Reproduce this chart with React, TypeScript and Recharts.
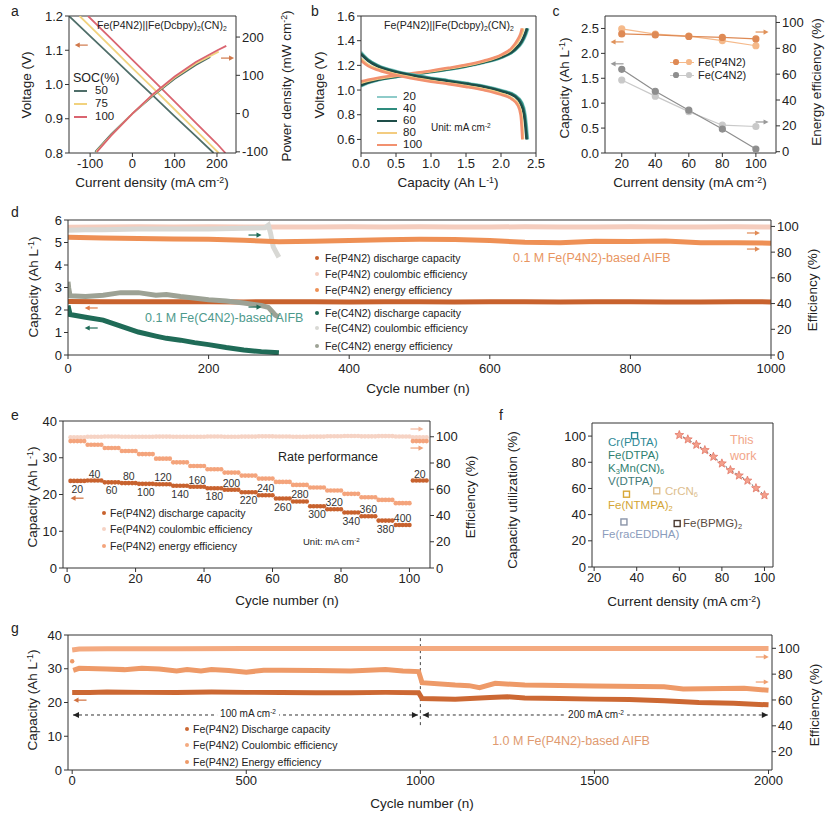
import React from "react";
import { ComposedChart, Line, XAxis, YAxis, ReferenceLine, ReferenceDot } from "recharts";

const FONT = "Arial, 'Liberation Sans', Helvetica, sans-serif";
const AX = "#333";
const tick = { fontSize: 13, fill: "#222", fontFamily: FONT };
const fmt1 = (v: number) => v.toFixed(1);

// ---------- a: polarization / power ----------
const socNames = ["50", "75", "100"];
const socColors = ["#4F6E69", "#F1D27E", "#DA6470"];
const voltSoc = [
  [[-150, 1.2], [-100, 1.141], [-50, 1.083], [0, 1.024], [50, 0.966], [100, 0.907], [150, 0.849], [192, 0.8]],
  [[-125, 1.2], [-100, 1.17], [-50, 1.109], [0, 1.048], [50, 0.988], [100, 0.927], [150, 0.866], [204, 0.8]],
  [[-105, 1.2], [-50, 1.133], [0, 1.072], [50, 1.011], [100, 0.95], [150, 0.888], [200, 0.827], [220, 0.8]],
];
const powerSoc = [
  [[-88, -100], [-50, -54], [0, 0], [50, 48], [100, 91], [150, 127], [184, 148]],
  [[-86, -100], [-50, -56], [0, 0], [50, 50], [100, 94], [150, 131], [204, 162]],
  [[-84, -100], [-50, -57], [0, 0], [50, 52], [100, 97], [150, 135], [200, 165], [222, 177]],
];

// ---------- b: charge / discharge curves ----------
const bCurrents = ["20", "40", "60", "80", "100"];
const bColors = ["#8ECBC9", "#2E8C7E", "#1E4D49", "#F3CC80", "#F2916F"];
const bCharge = [
  [[0, 1.03], [0.1, 1.055], [0.25, 1.08], [0.5, 1.105], [0.75, 1.125], [1, 1.145], [1.25, 1.165], [1.5, 1.19], [1.75, 1.22], [2, 1.26], [2.2, 1.32], [2.3, 1.38], [2.36, 1.45], [2.39, 1.5]],
  [[0, 1.035], [0.1, 1.06], [0.25, 1.083], [0.5, 1.107], [0.75, 1.127], [1, 1.147], [1.25, 1.167], [1.5, 1.192], [1.75, 1.223], [2, 1.263], [2.2, 1.325], [2.3, 1.39], [2.35, 1.45], [2.38, 1.5]],
  [[0, 1.04], [0.1, 1.062], [0.25, 1.086], [0.5, 1.11], [0.75, 1.13], [1, 1.15], [1.25, 1.17], [1.5, 1.195], [1.75, 1.226], [2, 1.268], [2.2, 1.33], [2.29, 1.39], [2.34, 1.45], [2.37, 1.5]],
  [[0, 1.06], [0.1, 1.075], [0.25, 1.093], [0.5, 1.115], [0.75, 1.133], [1, 1.153], [1.25, 1.175], [1.5, 1.2], [1.75, 1.232], [2, 1.28], [2.15, 1.33], [2.25, 1.4], [2.3, 1.46], [2.32, 1.5]],
  [[0, 1.07], [0.1, 1.083], [0.25, 1.1], [0.5, 1.12], [0.75, 1.137], [1, 1.157], [1.25, 1.18], [1.5, 1.205], [1.75, 1.238], [2, 1.285], [2.15, 1.34], [2.24, 1.41], [2.28, 1.46], [2.3, 1.5]],
];
const bDischarge = [
  [[0, 1.31], [0.1, 1.25], [0.25, 1.2], [0.5, 1.155], [0.75, 1.125], [1, 1.1], [1.25, 1.08], [1.5, 1.058], [1.75, 1.035], [2, 1.0], [2.2, 0.96], [2.3, 0.9], [2.35, 0.8], [2.37, 0.7], [2.385, 0.6]],
  [[0, 1.3], [0.1, 1.245], [0.25, 1.196], [0.5, 1.151], [0.75, 1.121], [1, 1.096], [1.25, 1.076], [1.5, 1.054], [1.75, 1.031], [2, 0.996], [2.2, 0.955], [2.3, 0.89], [2.34, 0.8], [2.36, 0.7], [2.375, 0.6]],
  [[0, 1.29], [0.1, 1.238], [0.25, 1.19], [0.5, 1.146], [0.75, 1.116], [1, 1.092], [1.25, 1.072], [1.5, 1.05], [1.75, 1.027], [2, 0.991], [2.2, 0.948], [2.28, 0.89], [2.33, 0.8], [2.35, 0.7], [2.365, 0.6]],
  [[0, 1.255], [0.1, 1.205], [0.25, 1.168], [0.5, 1.127], [0.75, 1.098], [1, 1.074], [1.25, 1.053], [1.5, 1.032], [1.75, 1.006], [2, 0.97], [2.15, 0.935], [2.25, 0.88], [2.29, 0.8], [2.305, 0.7], [2.315, 0.6]],
  [[0, 1.24], [0.1, 1.195], [0.25, 1.16], [0.5, 1.12], [0.75, 1.092], [1, 1.068], [1.25, 1.048], [1.5, 1.026], [1.75, 1.0], [2, 0.963], [2.15, 0.928], [2.24, 0.875], [2.28, 0.8], [2.295, 0.7], [2.305, 0.6]],
];

// ---------- c: rate comparison ----------
const cDensity = [20, 40, 60, 80, 100];
const cP4n2Cap = [2.39, 2.37, 2.34, 2.32, 2.29];
const cP4n2EE = [95, 91, 89.5, 86, 82];
const cC4n2Cap = [1.68, 1.24, 0.86, 0.48, 0.08];
const cC4n2EE = [55.5, 43, 31, 20.5, 19.5];

// ---------- d: 0.1 M cycling ----------
const dCycles = [0, 50, 100, 150, 200, 250, 300, 350, 400, 450, 500, 550, 600, 650, 700, 750, 800, 850, 900, 950, 1000];
const dP4n2Cap = [2.38, 2.37, 2.37, 2.37, 2.37, 2.36, 2.37, 2.37, 2.36, 2.37, 2.37, 2.36, 2.37, 2.37, 2.36, 2.37, 2.37, 2.36, 2.36, 2.37, 2.36];
const dP4n2CE = [99.4, 99.6, 99.7, 99.6, 99.7, 99.6, 99.5, 99.6, 99.7, 99.6, 99.7, 99.6, 99.6, 99.7, 99.6, 99.6, 99.7, 99.6, 99.6, 99.7, 99.6];
const dP4n2EE = [91.5, 91, 90.6, 90.3, 90, 89.2, 88, 88.4, 89, 89.6, 90, 89.8, 89, 87.6, 87.4, 88.5, 88.3, 88.6, 87.3, 87.4, 87];
const dC4n2CapX = [0, 3, 25, 50, 75, 100, 125, 140, 160, 180, 200, 225, 250, 275, 300];
const dC4n2Cap = [2.2, 1.8, 1.68, 1.55, 1.28, 1.02, 0.84, 0.74, 0.66, 0.55, 0.46, 0.33, 0.22, 0.15, 0.1];
const dC4n2CEX = [0, 25, 50, 100, 150, 200, 250, 280, 285, 288, 292, 296, 300];
const dC4n2CE = [97, 97.5, 97.5, 98, 98, 98, 98.5, 99, 101, 95, 84, 80, 76];
const dC4n2EEX = [0, 1, 3, 25, 50, 75, 100, 125, 140, 160, 200, 225, 250, 275, 285, 290, 295, 300];
const dC4n2EE = [57, 52, 46, 45.5, 46.5, 48.5, 48.5, 46.5, 47, 45.5, 43, 42, 40.5, 38.5, 37, 34, 31, 29.5];

// ---------- e: rate performance ----------
const eCurrents = [20, 40, 60, 80, 100, 120, 140, 160, 180, 200, 220, 240, 260, 280, 300, 320, 340, 360, 380, 400, 20];
const eCapacity = [23.7, 23.8, 23.3, 23.1, 22.9, 22.8, 22.4, 22.1, 21.7, 21.3, 20.6, 19.8, 18.9, 18.1, 16.8, 16.0, 15.1, 14.1, 12.9, 11.7, 23.8];
const eEnergyEff = [96.7, 93.9, 91.4, 89.1, 86.8, 83.3, 80.5, 77.7, 75.2, 72.7, 70.4, 68.1, 65.6, 63.3, 61.3, 59.0, 56.5, 53.9, 51.9, 49.4, 96.7];
const eCoulombEff = [99.6, 100, 100.2, 100, 100, 100.1, 100, 100, 100.2, 100, 100.1, 100.3, 100.2, 100, 100.1, 100.4, 100.6, 100.3, 100.5, 100.2, 99.5];
const eStepLen = 5;

// ---------- f: capacity utilization comparison ----------
const fStarX = [60, 64, 68, 72, 76, 80, 84, 88, 92, 96, 100];
const fStarY = [100.8, 97.5, 93.4, 89.3, 84.2, 79.1, 74, 69.9, 66, 60.2, 54.8];
const fOtherX = [39, 35.2, 49.4, 34, 59];
const fOtherY = [100.3, 55.6, 58.2, 34.4, 33.2];
const fOtherColors = ["#2A8A9A", "#D8A838", "#E0C090", "#8A94A8", "#4A3A30"];

// ---------- g: 1.0 M long cycling ----------
const gCapX = [0, 50, 100, 200, 300, 400, 500, 600, 700, 800, 900, 995, 1005, 1100, 1200, 1250, 1300, 1400, 1500, 1600, 1700, 1800, 1900, 2000];
const gCap = [23, 23, 23.1, 23, 23, 23.1, 23, 23, 22.9, 22.9, 23, 22.9, 21.2, 21.0, 21.5, 21.7, 21.3, 21.2, 21.0, 20.9, 20.5, 20.0, 19.8, 19.3];
const gCEX = [0, 20, 100, 300, 500, 700, 900, 1000, 1100, 1300, 1500, 1700, 1900, 2000];
const gCE = [98.7, 99.4, 99.6, 99.7, 99.8, 99.8, 99.8, 99.8, 99.9, 99.9, 99.9, 99.9, 99.9, 99.8];
const gEEX = [3, 20, 100, 150, 200, 250, 300, 330, 370, 400, 450, 500, 550, 600, 700, 800, 900, 950, 995, 1005, 1100, 1140, 1170, 1215, 1300, 1500, 1700, 1755, 1930, 2000];
const gEE = [83, 84.5, 84, 83.5, 84.5, 84, 82.5, 83.5, 82.5, 83.5, 82.8, 81.5, 83, 83, 82.8, 82.5, 83.5, 82.5, 82, 73.4, 71.6, 71.1, 69.5, 72.9, 71.6, 70.8, 70.3, 68.5, 69, 67.5];
const gEEFirst = { x: 0, y: 90 };

const pairs = (p: number[][]) => p.map(([x, y]) => ({ x, y }));
const zip = (xs: number[], ys: number[]) => xs.map((x, i) => ({ x, y: ys[i] }));
const eCycles = eCurrents.flatMap((_, s) => Array.from({ length: eStepLen }, (_, k) => s * eStepLen + k + 1));
const eSeries = (vals: number[]) => eCycles.map((c) => ({ x: c, y: vals[Math.floor((c - 1) / eStepLen)] }));
const eLabels = eCurrents.map((cur, s) => ({ x: s * eStepLen + 3, y: eCapacity[s], cur, up: s % 2 === 1 || s === eCurrents.length - 1 }));

// ---------- small helpers ----------
const Sup = ({ c }: { c: string }) => <span style={{ fontSize: "0.65em", position: "relative", top: "-0.5em" }}>{c}</span>;
const Sub = ({ c }: { c: string }) => <span style={{ fontSize: "0.65em", position: "relative", top: "0.3em" }}>{c}</span>;

function Txt({ x, y, size = 13.5, color = "#222", rotate = 0, anchor = "middle", bg, children }: any) {
  const tx = anchor === "middle" ? "-50%" : anchor === "end" ? "-100%" : "0";
  return (
    <div
      style={{
        position: "absolute", left: x, top: y, transform: `translate(${tx},-50%) rotate(${rotate}deg)`,
        fontSize: size, color, whiteSpace: "nowrap", lineHeight: 1, fontFamily: FONT, background: bg, padding: bg ? "0 3px" : 0,
      }}
    >
      {children}
    </div>
  );
}

const Dot = ({ x, y, color, r = 2.3 }: any) => (
  <div style={{ position: "absolute", left: x - r, top: y - r, width: 2 * r, height: 2 * r, borderRadius: r, background: color }} />
);

const arrow = (dir: number, color: string, len = 13) => (p: any) => {
  const { cx, cy } = p;
  const tip = cx + (dir * len) / 2;
  const tail = cx - (dir * len) / 2;
  return (
    <g>
      <line x1={tail} y1={cy} x2={tip - dir * 4} y2={cy} stroke={color} strokeWidth={1.2} />
      <path d={`M${tip},${cy}L${tip - dir * 5},${cy - 2.6}L${tip - dir * 5},${cy + 2.6}Z`} fill={color} />
    </g>
  );
};
const headShape = (dir: number) => (p: any) => (
  <path d={`M${p.cx},${p.cy}L${p.cx - dir * 6},${p.cy - 3}L${p.cx - dir * 6},${p.cy + 3}Z`} fill="#222" />
);

const circleDot = (color: string, r = 2.3) => (p: any) => <circle key={`c${p.index}`} cx={p.cx} cy={p.cy} r={r} fill={color} />;
const squareDot = (color: string) => (p: any) => (
  <rect key={`s${p.index}`} x={p.cx - 3} y={p.cy - 3} width={6} height={6} fill="none" stroke={color} strokeWidth={1.4} />
);
const starDot = (p: any) => {
  const pts: string[] = [];
  for (let k = 0; k < 10; k++) {
    const r = k % 2 === 0 ? 4.6 : 2.0;
    const a = -Math.PI / 2 + (k * Math.PI) / 5;
    pts.push(`${p.cx + r * Math.cos(a)},${p.cy + r * Math.sin(a)}`);
  }
  return <polygon key={`st${p.index}`} points={pts.join(" ")} fill="#F4A08C" stroke="#E0705E" strokeWidth={0.7} />;
};
const stepLabel = (p: any) => (
  <text key={`l${p.index}`} x={p.cx} y={p.cy + (p.payload.up ? -7 : 8)} textAnchor="middle" dominantBaseline="central" fontSize={10.5} fill="#333" fontFamily={FONT}>
    {p.payload.cur}
  </text>
);

const xAx = (domain: number[], ticks: number[], height: number, fmt?: (v: number) => string, margin = 2) => (
  <XAxis type="number" dataKey="x" domain={domain} ticks={ticks} allowDataOverflow interval={0} height={height}
    tick={tick} tickSize={4} tickMargin={margin} stroke={AX} tickFormatter={fmt} />
);
const yAx = (id: string, domain: number[], ticks: number[], width: number, right = false, fmt?: (v: number) => string) => (
  <YAxis yAxisId={id} orientation={right ? "right" : "left"} type="number" domain={domain} ticks={ticks} allowDataOverflow interval={0}
    width={width} tick={tick} tickSize={4} stroke={AX} tickFormatter={fmt} />
);
const line = (id: string, data: any[], color: string, width = 2, extra: any = {}) => (
  <Line yAxisId={id} data={data} dataKey="y" stroke={color} strokeWidth={width} dot={false} activeDot={false} isAnimationActive={false} {...extra} />
);

const Box = ({ left, top, children }: any) => <div style={{ position: "absolute", left, top }}>{children}</div>;

const P4_CAP = "#C8622E";
const P4_CE = "#F5CDBE";
const P4_EE = "#EE9055";
const C4_CAP = "#1F6B57";
const C4_CE = "#D8D8D4";
const C4_EE = "#9DA295";
const socY = [91, 104, 117];

export default function App() {
  return (
    <div style={{ position: "absolute", left: 0, top: 0, width: 830, height: 813, background: "#fff", overflow: "hidden", fontFamily: FONT }}>
      {/* ---------- a ---------- */}
      <Box left={0} top={0}>
        <ComposedChart width={300} height={200} margin={{ top: 16, right: 0, bottom: 0, left: 0 }}>
          {xAx([-150, 245], [-100, 0, 100, 200], 47)}
          {yAx("l", [0.8, 1.2], [0.8, 0.9, 1.0, 1.1, 1.2], 69, false, fmt1)}
          {yAx("r", [-103, 255], [-100, 0, 100, 200], 64, true)}
          <ReferenceLine yAxisId="l" y={1.2} stroke={AX} />
          {voltSoc.map((v, i) => <React.Fragment key={`v${i}`}>{line("l", pairs(v), socColors[i], 1.8)}</React.Fragment>)}
          {powerSoc.map((v, i) => <React.Fragment key={`p${i}`}>{line("r", pairs(v), socColors[i], 1.8)}</React.Fragment>)}
          <ReferenceDot yAxisId="l" x={-121} y={1.115} r={0} shape={arrow(-1, "#D0784A")} />
          <ReferenceDot yAxisId="r" x={225} y={145} r={0} shape={arrow(1, "#D0784A")} />
        </ComposedChart>
      </Box>
      <Txt x={15} y={11} size={14}>a</Txt>
      <Txt x={97} y={25} size={10.5} anchor="start">Fe(P4N2)||Fe(Dcbpy)<Sub c="2" />(CN)<Sub c="2" /></Txt>
      <Txt x={73} y={78} size={12.5} anchor="start">SOC(%)</Txt>
      {socNames.map((s, i) => (
        <React.Fragment key={s}>
          <div style={{ position: "absolute", left: 74, top: socY[i] - 1, width: 13, height: 2, background: socColors[i] }} />
          <Txt x={95} y={socY[i]} size={11.5} anchor="start">{s}</Txt>
        </React.Fragment>
      ))}
      <Txt x={27} y={85} rotate={-90}>Voltage (V)</Txt>
      <Txt x={287} y={86} rotate={-90}>Power density (mW cm<Sup c="-2" />)</Txt>
      <Txt x={152} y={183}>Current density (mA cm<Sup c="-2" />)</Txt>

      {/* ---------- b ---------- */}
      <Box left={290} top={0}>
        <ComposedChart width={262} height={200} margin={{ top: 16, right: 16, bottom: 0, left: 0 }}>
          {xAx([0, 2.5], [0, 0.5, 1, 1.5, 2, 2.5], 47, fmt1)}
          {yAx("l", [0.49, 1.6], [0.6, 0.8, 1.0, 1.2, 1.4, 1.6], 71, false, fmt1)}
          <ReferenceLine yAxisId="l" y={1.6} stroke={AX} />
          <ReferenceLine yAxisId="l" x={2.5} stroke={AX} />
          {bCharge.map((v, i) => <React.Fragment key={`c${i}`}>{line("l", pairs(v), bColors[i], 2.6, { type: "monotone" })}</React.Fragment>)}
          {bDischarge.map((v, i) => <React.Fragment key={`d${i}`}>{line("l", pairs(v), bColors[i], 2.6, { type: "monotone" })}</React.Fragment>)}
        </ComposedChart>
      </Box>
      <Txt x={315} y={11} size={14}>b</Txt>
      <Txt x={384} y={25} size={10.5} anchor="start">Fe(P4N2)||Fe(Dcbpy)<Sub c="2" />(CN)<Sub c="2" /></Txt>
      {bCurrents.map((s, i) => (
        <React.Fragment key={s}>
          <div style={{ position: "absolute", left: 377, top: [97, 109, 121, 133, 145][i] - 1, width: 20, height: 2, background: bColors[i] }} />
          <Txt x={403} y={[97, 109, 121, 133, 145][i]} size={11.5} anchor="start">{s}</Txt>
        </React.Fragment>
      ))}
      <Txt x={431} y={128} size={10} anchor="start">Unit: mA cm<Sup c="-2" /></Txt>
      <Txt x={320} y={85} rotate={-90}>Voltage (V)</Txt>
      <Txt x={448} y={183}>Capacity (Ah L<Sup c="-1" />)</Txt>

      {/* ---------- c ---------- */}
      <Box left={545} top={0}>
        <ComposedChart width={285} height={200} margin={{ top: 16, right: 0, bottom: 0, left: 0 }}>
          {xAx([10, 112], [20, 40, 60, 80, 100], 47)}
          {yAx("l", [0, 2.75], [0, 0.5, 1, 1.5, 2, 2.5], 60, false, fmt1)}
          {yAx("r", [-1, 105], [0, 20, 40, 60, 80, 100], 54, true)}
          <ReferenceLine yAxisId="l" y={2.75} stroke={AX} />
          {line("r", zip(cDensity, cC4n2EE), "#C9C9C9", 1.2, { dot: { r: 3, fill: "#C9C9C9", stroke: "#C9C9C9" } })}
          {line("l", zip(cDensity, cC4n2Cap), "#8E8E8E", 1.2, { dot: { r: 3, fill: "#8E8E8E", stroke: "#8E8E8E" } })}
          {line("r", zip(cDensity, cP4n2EE), "#F5B98A", 1.2, { dot: { r: 3, fill: "#F5B98A", stroke: "#F5B98A" } })}
          {line("l", zip(cDensity, cP4n2Cap), "#DE8A55", 1.2, { dot: { r: 3, fill: "#DE8A55", stroke: "#DE8A55" } })}
          <ReferenceDot yAxisId="l" x={17.2} y={2.23} r={0} shape={arrow(-1, "#E0925A")} />
          <ReferenceDot yAxisId="l" x={17.2} y={1.79} r={0} shape={arrow(-1, "#999")} />
          <ReferenceDot yAxisId="r" x={103.7} y={92.6} r={0} shape={arrow(1, "#E0925A")} />
          <ReferenceDot yAxisId="r" x={103.7} y={23} r={0} shape={arrow(1, "#999")} />
        </ComposedChart>
      </Box>
      <Txt x={556} y={11} size={14}>c</Txt>
      {[["Fe(P4N2)", "#DE8A55", "#F5B98A", 62], ["Fe(C4N2)", "#8E8E8E", "#C9C9C9", 75]].map(([n, c1, c2, y]: any) => (
        <React.Fragment key={n}>
          <div style={{ position: "absolute", left: 670, top: y - 0.5, width: 24, height: 1, background: c2 }} />
          <Dot x={676} y={y} color={c1} r={2.8} />
          <Dot x={689} y={y} color={c2} r={2.8} />
          <Txt x={698} y={y} size={11} anchor="start">{n}</Txt>
        </React.Fragment>
      ))}
      <Txt x={565} y={88} rotate={-90}>Capacity (Ah L<Sup c="-1" />)</Txt>
      <Txt x={817} y={82} rotate={-90}>Energy efficiency (%)</Txt>
      <Txt x={690} y={183}>Current density (mA cm<Sup c="-2" />)</Txt>

      {/* ---------- d ---------- */}
      <Box left={0} top={200}>
        <ComposedChart width={830} height={200} margin={{ top: 20, right: 0, bottom: 0, left: 0 }}>
          {xAx([0, 1000], [0, 200, 400, 600, 800, 1000], 45, undefined, 5)}
          {yAx("l", [0, 6], [0, 1, 2, 3, 4, 5, 6], 68)}
          {yAx("r", [0, 105], [0, 20, 40, 60, 80, 100], 59, true)}
          <ReferenceLine yAxisId="l" y={6} stroke={AX} />
          {line("r", zip(dCycles, dP4n2CE), P4_CE, 5)}
          {line("r", zip(dC4n2CEX, dC4n2CE), C4_CE, 5)}
          {line("r", zip(dCycles, dP4n2EE), P4_EE, 5)}
          {line("l", zip(dCycles, dP4n2Cap), P4_CAP, 5)}
          {line("r", zip(dC4n2EEX, dC4n2EE), C4_EE, 5)}
          {line("l", zip(dC4n2CapX, dC4n2Cap), C4_CAP, 5)}
          <ReferenceDot yAxisId="l" x={33} y={1.2} r={0} shape={arrow(-1, C4_CAP)} />
          <ReferenceDot yAxisId="l" x={33} y={2.09} r={0} shape={arrow(-1, "#E07A45")} />
          <ReferenceDot yAxisId="r" x={266} y={93.3} r={0} shape={arrow(1, C4_CAP)} />
          <ReferenceDot yAxisId="r" x={266} y={37.3} r={0} shape={arrow(1, C4_CAP)} />
          <ReferenceDot yAxisId="r" x={975} y={94.9} r={0} shape={arrow(1, "#E08A55")} />
          <ReferenceDot yAxisId="r" x={975} y={82.4} r={0} shape={arrow(1, "#E08A55")} />
        </ComposedChart>
      </Box>
      <Txt x={15} y={212} size={14}>d</Txt>
      {[
        ["Fe(P4N2) discharge capacity", P4_CAP, 258],
        ["Fe(P4N2) coulombic efficiency", P4_CE, 274],
        ["Fe(P4N2) energy efficiency", P4_EE, 290],
        ["Fe(C4N2) discharge capacity", C4_CAP, 313],
        ["Fe(C4N2) coulombic efficiency", C4_CE, 328],
        ["Fe(C4N2) energy efficiency", C4_EE, 346],
      ].map(([n, c, y]: any) => (
        <React.Fragment key={n}>
          <Dot x={317} y={y} color={c} r={2} />
          <Txt x={325} y={y} size={10.5} anchor="start">{n}</Txt>
        </React.Fragment>
      ))}
      <Txt x={513} y={258} size={12.5} color="#E8955F" anchor="start">0.1 M Fe(P4N2)-based AIFB</Txt>
      <Txt x={145} y={318} size={12.5} color="#4E9A8C" anchor="start">0.1 M Fe(C4N2)-based AIFB</Txt>
      <Txt x={34} y={287} rotate={-90}>Capacity (Ah L<Sup c="-1" />)</Txt>
      <Txt x={813} y={290} rotate={-90}>Efficiency (%)</Txt>
      <Txt x={418} y={389}>Cycle number (n)</Txt>

      {/* ---------- e ---------- */}
      <Box left={0} top={400}>
        <ComposedChart width={480} height={220} margin={{ top: 21, right: 0, bottom: 0, left: 0 }}>
          {xAx([-1.2, 106], [0, 20, 40, 60, 80, 100], 52)}
          {yAx("l", [0, 40], [0, 10, 20, 30, 40], 63)}
          {yAx("r", [0, 112], [0, 20, 40, 60, 80, 100], 50, true)}
          <ReferenceLine yAxisId="l" y={40} stroke={AX} />
          {line("r", eSeries(eCoulombEff), "none", 0, { dot: circleDot("#F6D3C4") })}
          {line("r", eSeries(eEnergyEff), "none", 0, { dot: circleDot("#F4A47C") })}
          {line("l", eSeries(eCapacity), "none", 0, { dot: circleDot(P4_CAP) })}
          {line("l", eLabels, "none", 0, { dot: stepLabel })}
          <ReferenceDot yAxisId="l" x={2.9} y={19} r={0} shape={arrow(-1, "#D0703E")} />
          <ReferenceDot yAxisId="r" x={102.2} y={105.9} r={0} shape={arrow(1, "#F3B79C")} />
          <ReferenceDot yAxisId="r" x={102.2} y={91.4} r={0} shape={arrow(1, "#F0A27A")} />
        </ComposedChart>
      </Box>
      <Txt x={15} y={415} size={14}>e</Txt>
      {[
        ["Fe(P4N2) discharge capacity", P4_CAP, 513],
        ["Fe(P4N2) coulombic efficiency", "#F6D3C4", 529],
        ["Fe(P4N2) energy efficiency", "#F4A47C", 546],
      ].map(([n, c, y]: any) => (
        <React.Fragment key={n}>
          <Dot x={104} y={y} color={c} r={2} />
          <Txt x={110} y={y} size={10.5} anchor="start">{n}</Txt>
        </React.Fragment>
      ))}
      <Txt x={328} y={457} size={12.5}>Rate performance</Txt>
      <Txt x={303} y={542} size={9.5} anchor="start">Unit: mA cm<Sup c="-2" /></Txt>
      <Txt x={33} y={497} rotate={-90}>Capacity (Ah L<Sup c="-1" />)</Txt>
      <Txt x={471} y={497} rotate={-90}>Efficiency (%)</Txt>
      <Txt x={287} y={601}>Cycle number (n)</Txt>

      {/* ---------- f ---------- */}
      <Box left={530} top={400}>
        <ComposedChart width={260} height={220} margin={{ top: 23, right: 17, bottom: 0, left: 0 }}>
          {xAx([19, 104], [20, 40, 60, 80, 100], 53)}
          {yAx("l", [0, 110], [0, 20, 40, 60, 80, 100], 62)}
          <ReferenceLine yAxisId="l" y={110} stroke={AX} />
          <ReferenceLine yAxisId="l" x={104} stroke={AX} />
          {fOtherX.map((x, i) => (
            <React.Fragment key={`o${i}`}>{line("l", [{ x, y: fOtherY[i] }], "none", 0, { dot: squareDot(fOtherColors[i]) })}</React.Fragment>
          ))}
          {line("l", zip(fStarX, fStarY), "#555", 1, { strokeDasharray: "2 2", dot: starDot })}
        </ComposedChart>
      </Box>
      <Txt x={501} y={415} size={14}>f</Txt>
      <Txt x={608} y={443} size={11.5} color="#2F8A96" anchor="start">Cr(PDTA)</Txt>
      <Txt x={608} y={456} size={11.5} color="#2F7F70" anchor="start">Fe(DTPA)</Txt>
      <Txt x={608} y={469} size={11.5} color="#2F7F70" anchor="start">K<Sub c="3" />Mn(CN)<Sub c="6" /></Txt>
      <Txt x={608} y={482} size={11.5} color="#3F7A78" anchor="start">V(DTPA)</Txt>
      <Txt x={608} y={506} size={11.5} color="#D4A636" anchor="start">Fe(NTMPA)<Sub c="2" /></Txt>
      <Txt x={665} y={492} size={11.5} color="#DDBE8E" anchor="start">CrCN<Sub c="6" /></Txt>
      <Txt x={602} y={535} size={11.5} color="#8B9CBC" anchor="start">Fe(racEDDHA)</Txt>
      <Txt x={683} y={524} size={11.5} color="#5A4A40" anchor="start">Fe(BPMG)<Sub c="2" /></Txt>
      <Txt x={730} y={440} size={12.5} color="#F2A68A" anchor="start">This</Txt>
      <Txt x={730} y={456} size={12.5} color="#F2A68A" anchor="start">work</Txt>
      <Txt x={513} y={500} rotate={-90}>Capacity utilization (%)</Txt>
      <Txt x={684} y={602}>Current density (mA cm<Sup c="-2" />)</Txt>

      {/* ---------- g ---------- */}
      <Box left={0} top={615}>
        <ComposedChart width={830} height={198} margin={{ top: 20, right: 0, bottom: 0, left: 0 }}>
          {xAx([-12, 2010], [0, 500, 1000, 1500, 2000], 43)}
          {yAx("l", [0, 40], [0, 10, 20, 30, 40], 68)}
          {yAx("r", [5.8, 110.3], [20, 40, 60, 80, 100], 58, true)}
          <ReferenceLine yAxisId="l" y={40} stroke={AX} />
          <ReferenceLine yAxisId="l" segment={[{ x: 1000, y: 13.3 }, { x: 1000, y: 40 }]} stroke="#444" strokeDasharray="3 3" />
          <ReferenceLine yAxisId="l" segment={[{ x: 2.4, y: 16.3 }, { x: 993, y: 16.3 }]} stroke="#333" strokeDasharray="3 3" />
          <ReferenceLine yAxisId="l" segment={[{ x: 1007, y: 16.3 }, { x: 1998, y: 16.3 }]} stroke="#333" strokeDasharray="3 3" />
          <ReferenceDot yAxisId="l" x={2.4} y={16.3} r={0} shape={headShape(-1)} />
          <ReferenceDot yAxisId="l" x={993} y={16.3} r={0} shape={headShape(1)} />
          <ReferenceDot yAxisId="l" x={1007} y={16.3} r={0} shape={headShape(-1)} />
          <ReferenceDot yAxisId="l" x={1998} y={16.3} r={0} shape={headShape(1)} />
          {line("r", zip(gCEX, gCE), "#F4AA80", 5)}
          {line("r", zip(gEEX, gEE), "#EE9A68", 5)}
          {line("r", [gEEFirst], "none", 0, { dot: circleDot("#EE9A68", 2.2) })}
          {line("l", zip(gCapX, gCap), "#CC6833", 5)}
          <ReferenceDot yAxisId="l" x={22.5} y={20.7} r={0} shape={arrow(-1, "#D0703E")} />
          <ReferenceDot yAxisId="r" x={1982} y={93.3} r={0} shape={arrow(1, "#F0A070")} />
          <ReferenceDot yAxisId="r" x={1982} y={73.9} r={0} shape={arrow(1, "#F0A070")} />
        </ComposedChart>
      </Box>
      <Txt x={15} y={628} size={14}>g</Txt>
      <Txt x={248} y={714} size={10} bg="#fff">100 mA cm<Sup c="-2" /></Txt>
      <Txt x={596} y={715} size={10} bg="#fff">200 mA cm<Sup c="-2" /></Txt>
      {[
        ["Fe(P4N2) Discharge capacity", "#CC6833", 729],
        ["Fe(P4N2) Coulombic efficiency", "#F4AA80", 745],
        ["Fe(P4N2) Energy efficiency", "#EE9A68", 762],
      ].map(([n, c, y]: any) => (
        <React.Fragment key={n}>
          <Dot x={187} y={y} color={c} r={2} />
          <Txt x={193} y={y} size={10.5} anchor="start">{n}</Txt>
        </React.Fragment>
      ))}
      <Txt x={571} y={741} size={12.5} color="#E09A70">1.0 M Fe(P4N2)-based AIFB</Txt>
      <Txt x={33} y={700} rotate={-90}>Capacity (Ah L<Sup c="-1" />)</Txt>
      <Txt x={815} y={705} rotate={-90}>Efficiency (%)</Txt>
      <Txt x={422} y={804}>Cycle number (n)</Txt>
    </div>
  );
}
